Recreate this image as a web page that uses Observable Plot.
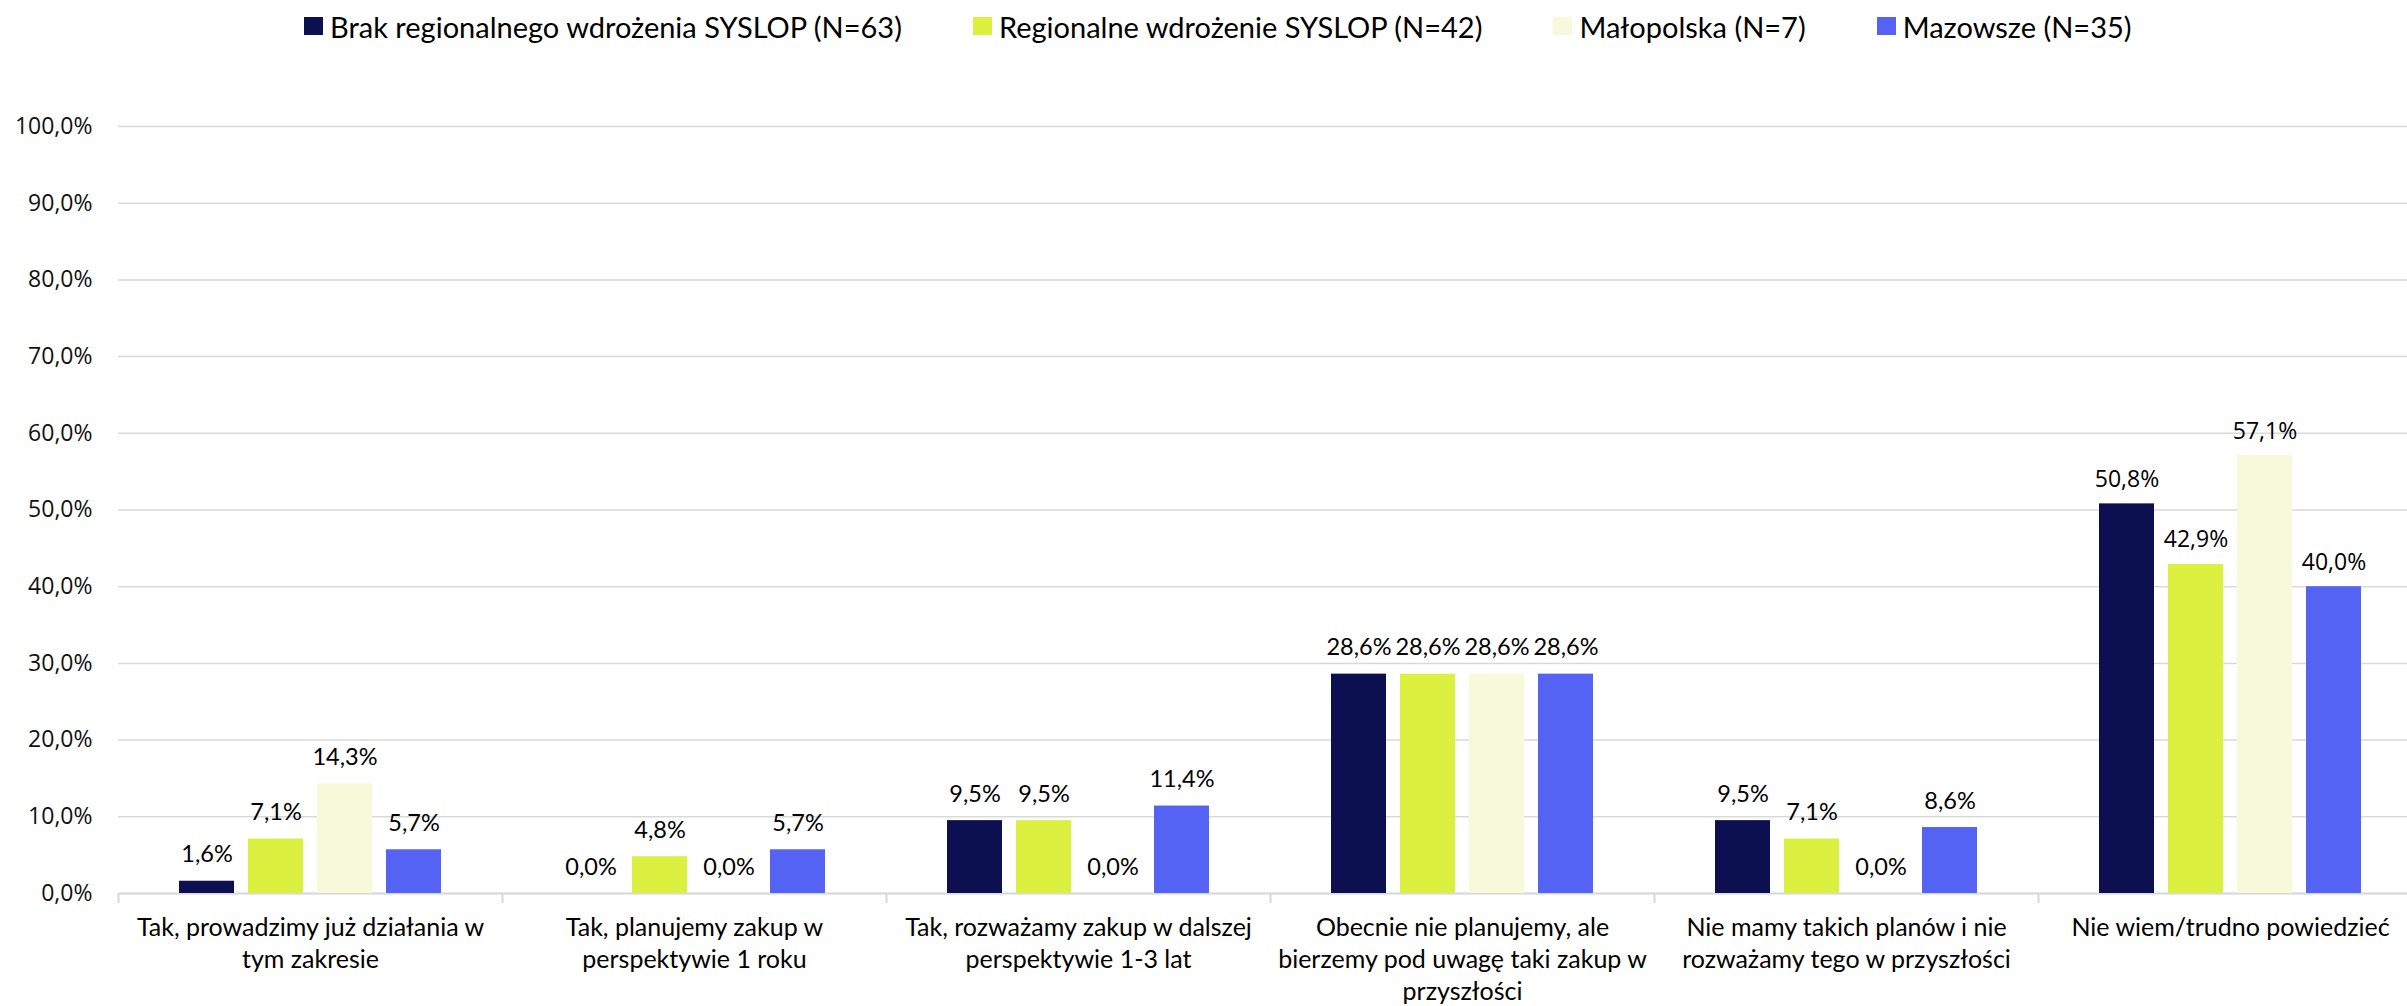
<!DOCTYPE html>
<html><head><meta charset="utf-8">
<script src="https://cdn.jsdelivr.net/npm/d3@7"></script>
<script src="https://cdn.jsdelivr.net/npm/@observablehq/plot@0.6"></script>
<style>
html,body{margin:0;padding:0;background:#fff;overflow:hidden;width:2407px;height:1006px}
#legend{display:flex;align-items:center;height:52px;padding-left:304px;gap:71px;font-family:Lato,sans-serif;font-size:29px;color:#000;white-space:nowrap;box-sizing:border-box}
.item{display:flex;align-items:center}
.sw{width:19px;height:18px;margin-right:7px;display:inline-block}
#chart svg{max-width:none !important;display:block}
</style></head><body>
<div id="legend"></div>
<div id="chart"></div>
<script>
const categories = [
  "Tak, prowadzimy już działania w tym zakresie",
  "Tak, planujemy zakup w perspektywie 1 roku",
  "Tak, rozważamy zakup w dalszej perspektywie 1-3 lat",
  "Obecnie nie planujemy, ale bierzemy pod uwagę taki zakup w przyszłości",
  "Nie mamy takich planów i nie rozważamy tego w przyszłości",
  "Nie wiem/trudno powiedzieć"
];
const categoryLines = [
  "Tak, prowadzimy już działania w\ntym zakresie",
  "Tak, planujemy zakup w\nperspektywie 1 roku",
  "Tak, rozważamy zakup w dalszej\nperspektywie 1-3 lat",
  "Obecnie nie planujemy, ale\nbierzemy pod uwagę taki zakup w\nprzyszłości",
  "Nie mamy takich planów i nie\nrozważamy tego w przyszłości",
  "Nie wiem/trudno powiedzieć"
];
const series = [
  "Brak regionalnego wdrożenia SYSLOP (N=63)",
  "Regionalne wdrożenie SYSLOP (N=42)",
  "Małopolska (N=7)",
  "Mazowsze (N=35)"
];
const colors = ["#0c1050", "#dcf03f", "#f6fadb", "#5563f5"];
const brakValues = [1.6, 0.0, 9.5, 28.6, 9.5, 50.8];
const regionalneValues = [7.1, 4.8, 9.5, 28.6, 7.1, 42.9];
const malopolskaValues = [14.3, 0.0, 0.0, 28.6, 0.0, 57.1];
const mazowszeValues = [5.7, 5.7, 11.4, 28.6, 8.6, 40.0];
const yTicks = [0, 10, 20, 30, 40, 50, 60, 70, 80, 90, 100];

const seriesValues = [brakValues, regionalneValues, malopolskaValues, mazowszeValues];
const table = [];
categories.forEach((c, i) => series.forEach((s, j) => table.push({category: c, series: s, value: seriesValues[j][i]})));
const labelOf = new Map(categories.map((c, i) => [c, categoryLines[i]]));
const fmt = v => v.toFixed(1).replace(".", ",") + "%";
const lastCat = categories[categories.length - 1];

// legend
const legend = d3.select("#legend");
series.forEach((s, j) => {
  const it = legend.append("div").attr("class", "item");
  it.append("span").attr("class", "sw").style("background", colors[j]);
  it.append("span").text(s);
});

const W = 2422, H = 954, ML = 118, MR = 0, MT = 74, MB = 113;
const bandW = (W - ML - MR) / categories.length;

const chart = Plot.plot({
  width: W, height: H,
  marginLeft: ML, marginRight: MR, marginTop: MT, marginBottom: MB,
  style: {fontFamily: "Lato, sans-serif", background: "#fff", overflow: "visible", maxWidth: "none"},
  fx: {domain: categories, padding: 0, label: null},
  x: {domain: series, paddingInner: 0.21, paddingOuter: 0.86, axis: null},
  y: {domain: [0, 100], axis: null},
  color: {domain: series, range: colors},
  marks: [
    Plot.gridY(yTicks, {stroke: "#d9d9d9", strokeOpacity: 1, strokeWidth: 1.5}),
    Plot.axisY({ticks: yTicks, tickSize: 0, tickPadding: 26, tickFormat: fmt, fontFamily: "Open Sans", fontSize: 23, fill: "#111", label: null}),
    Plot.ruleY([0], {stroke: "#d9d9d9", strokeWidth: 2}),
    Plot.ruleX([0], {x: null, dx: -bandW / 2, insetTop: H - MT - MB, insetBottom: -10, stroke: "#d9d9d9", strokeWidth: 2}),
    Plot.barY(table, {fx: "category", x: "series", y: "value", fill: "series"}),
    Plot.text(table.filter(d => d.category !== lastCat), {fx: "category", x: "series", y: "value", text: d => fmt(d.value), lineAnchor: "bottom", dy: -19, fontSize: 23.5, fontFamily: "Lato, sans-serif", fill: "#000"}),
    Plot.text(table.filter(d => d.category === lastCat), {fx: "category", x: "series", y: "value", text: d => fmt(d.value), lineAnchor: "bottom", dy: -17, fontSize: 23, fontFamily: "Open Sans", fill: "#000"}),
    Plot.axisFx({anchor: "bottom", tickSize: 0, tickPadding: 20, tickFormat: c => labelOf.get(c), fontSize: 25, lineHeight: 1.28, fill: "#000", label: null})
  ]
});
document.getElementById("chart").appendChild(chart);
</script>
</body></html>
